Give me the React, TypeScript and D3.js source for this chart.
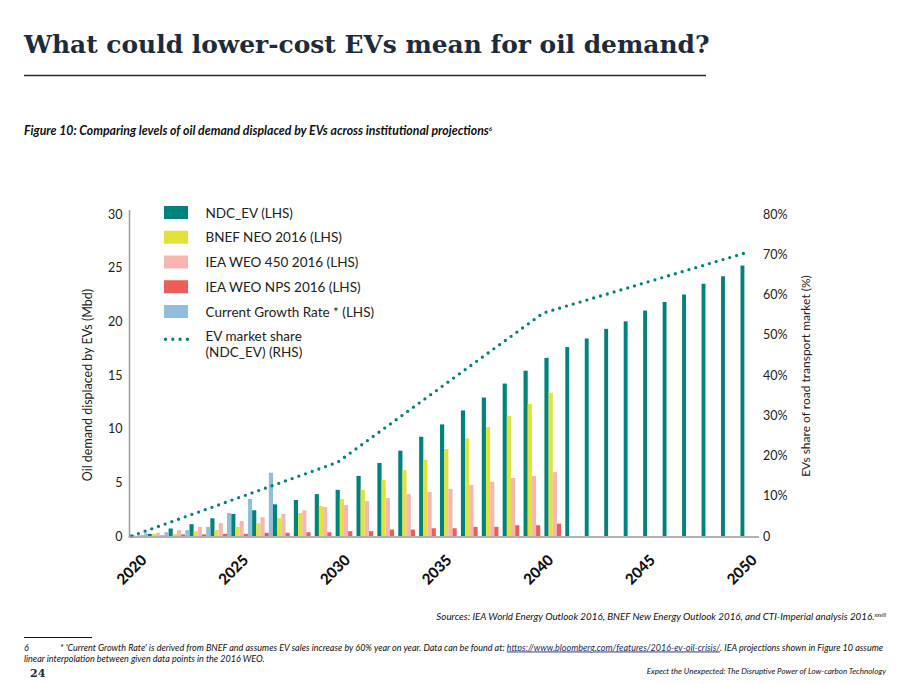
import { useEffect, useRef } from 'react';
import * as d3 from 'd3';

// categories
const years = [
  2020, 2021, 2022, 2023, 2024, 2025, 2026, 2027, 2028, 2029, 2030,
  2031, 2032, 2033, 2034, 2035, 2036, 2037, 2038, 2039, 2040,
  2041, 2042, 2043, 2044, 2045, 2046, 2047, 2048, 2049, 2050,
];
const labelYears = [2020, 2025, 2030, 2035, 2040, 2045, 2050];

// oil demand displaced (Mbd), LHS
const ndcEv = [
  0.1, 0.2, 0.7, 1.1, 1.65, 2.05, 2.4, 2.95, 3.35, 3.9, 4.3,
  5.6, 6.8, 7.95, 9.25, 10.4, 11.7, 12.9, 14.2, 15.4, 16.6,
  17.6, 18.4, 19.3, 20.0, 21.0, 21.8, 22.5, 23.5, 24.2, 25.2,
];
const bnefNeo = [
  0.05, 0.2, 0.2, 0.45, 0.55, 0.85, 1.2, 1.65, 2.15, 2.8, 3.45,
  4.3, 5.2, 6.15, 7.1, 8.1, 9.1, 10.15, 11.2, 12.3, 13.35,
];
const iea450 = [
  0.1, 0.3, 0.55, 0.85, 1.2, 1.4, 1.75, 2.05, 2.4, 2.7, 2.9,
  3.25, 3.55, 3.9, 4.1, 4.4, 4.75, 5.05, 5.4, 5.6, 5.95,
];
const ieaNps = [
  0.05, 0.05, 0.15, 0.15, 0.2, 0.2, 0.3, 0.3, 0.35, 0.35, 0.45,
  0.45, 0.6, 0.6, 0.72, 0.72, 0.85, 0.85, 1.0, 1.0, 1.15,
];
const currentGrowth = [0.25, 0.35, 0.55, 0.85, 2.15, 3.45, 5.9];

// EV market share (NDC_EV), RHS
const shareYears = [2020, 2030, 2040, 2050];
const evShare = [0.0, 0.183, 0.554, 0.706];

const leftTicks = [0, 5, 10, 15, 20, 25, 30];
const rightTicks = [0, 0.1, 0.2, 0.3, 0.4, 0.5, 0.6, 0.7, 0.8];

// the source plot spaces the bar groups unevenly: anchor years for the bar position scale
const barAnchorYears = [2020, 2021, 2041, 2050];

const TEAL = '#00827e';

const series = [
  { name: 'NDC_EV (LHS)', values: ndcEv, color: TEAL },
  { name: 'BNEF NEO 2016 (LHS)', values: bnefNeo, color: '#e3e23b' },
  { name: 'IEA WEO 450 2016 (LHS)', values: iea450, color: '#f7b7b1' },
  { name: 'IEA WEO NPS 2016 (LHS)', values: ieaNps, color: '#ea5f5a' },
  { name: 'Current Growth Rate * (LHS)', values: currentGrowth, color: '#91bed8' },
];

const W = 899;
const H = 684;
const FONT = 'Lato, "Open Sans", sans-serif';

const App = () => {
  const svgRef = useRef<SVGSVGElement>(null);

  useEffect(() => {
    if (!svgRef.current) return;
    const svg = d3.select(svgRef.current);
    svg.selectAll('*').remove();

    const plot = { left: 129.5, right: 759, top: 214, bottom: 536 };

    // uniform category scale, used for the year labels
    const x = d3.scaleBand<number>()
      .domain(years)
      .range([plot.left, plot.right + 1])
      .padding(0);

    // left edge of each bar group
    const xGroup = d3.scaleLinear()
      .domain(barAnchorYears)
      .range([plot.left + 0.8, plot.left + 18.2, plot.left + 435.8, plot.left + 611]);
    const subWidth = (year: number) =>
      Math.min(4.2, (xGroup(year + 1) - xGroup(year)) / series.length);

    const y = d3.scaleLinear().domain([0, 30]).range([plot.bottom, plot.top]);
    const yR = d3.scaleLinear().domain([0, 0.8]).range([plot.bottom, plot.top]);
    const lineX = d3.scaleLinear()
      .domain([2020, 2050])
      .range([plot.left + 2.2, plot.right - 10]);

    // Title block
    svg.append('text')
      .attr('x', 24)
      .attr('y', 53)
      .style('font-family', '"DejaVu Serif", serif')
      .style('font-weight', 700)
      .style('font-size', '24.9px')
      .style('fill', '#1d2b3b')
      .text('What could lower-cost EVs mean for oil demand?');

    svg.append('line')
      .attr('x1', 24).attr('x2', 706)
      .attr('y1', 75.5).attr('y2', 75.5)
      .attr('stroke', '#1d2b3b')
      .attr('stroke-width', 1.5);

    const fig = svg.append('text')
      .attr('x', 24)
      .attr('y', 135)
      .style('font-family', FONT)
      .style('font-weight', 700)
      .style('font-style', 'italic')
      .style('font-size', '12.3px')
      .style('fill', '#111');
    fig.append('tspan')
      .text('Figure 10: Comparing levels of oil demand displaced by EVs across institutional projections');
    fig.append('tspan').attr('dy', -4).style('font-size', '6px').text('6');

    // Bars
    const g = svg.append('g');
    series.forEach((s, k) => {
      g.selectAll(`.bar-${k}`)
        .data(s.values)
        .join('rect')
        .attr('class', `bar-${k}`)
        .attr('x', (_d, i) => xGroup(years[i]) + k * subWidth(years[i]))
        .attr('y', d => y(d))
        .attr('width', (_d, i) => subWidth(years[i]))
        .attr('height', d => plot.bottom - y(d))
        .attr('fill', s.color);
    });

    // EV market share line
    const line = d3.line<number>()
      .x((_d, i) => lineX(shareYears[i]))
      .y(d => yR(d));

    svg.append('path')
      .datum(evShare)
      .attr('d', line)
      .attr('fill', 'none')
      .attr('stroke', TEAL)
      .attr('stroke-width', 3.3)
      .attr('stroke-linecap', 'round')
      .attr('stroke-dasharray', '0 7.1');

    // Left axis
    const yAxis = svg.append('g')
      .attr('transform', `translate(${plot.left},0)`)
      .call(d3.axisLeft(y).tickValues(leftTicks).tickSize(0).tickPadding(7).tickSizeOuter(0));
    yAxis.select('.domain')
      .attr('d', `M0,${plot.top - 4}V${plot.bottom + 1}`)
      .attr('stroke', '#9a9a9a')
      .attr('stroke-width', 1.5);
    yAxis.selectAll('text')
      .style('font-family', FONT)
      .style('font-size', '12.5px')
      .style('fill', '#222');

    // Right axis
    const yAxisR = svg.append('g')
      .attr('transform', `translate(${plot.right - 2},0)`)
      .call(d3.axisRight(yR).tickValues(rightTicks).tickFormat(d3.format('.0%')).tickSize(0).tickPadding(6));
    yAxisR.select('.domain').remove();
    yAxisR.selectAll('text')
      .text((d: any) => (d === 0 ? '0' : d3.format('.0%')(d)))
      .style('font-family', FONT)
      .style('font-size', '12.5px')
      .style('fill', '#222');

    // Bottom axis line
    svg.append('line')
      .attr('x1', plot.left - 0.75).attr('x2', plot.right)
      .attr('y1', plot.bottom + 1).attr('y2', plot.bottom + 1)
      .attr('stroke', '#9a9a9a')
      .attr('stroke-width', 1.5);

    svg.append('g')
      .selectAll('text')
      .data(labelYears)
      .join('text')
      .attr('transform', d => `translate(${(x(d) || 0) + x.bandwidth() / 2 + 8},561) rotate(-45)`)
      .attr('text-anchor', 'end')
      .style('font-family', FONT)
      .style('font-weight', 900)
      .style('font-size', '15px')
      .style('fill', '#111')
      .text(d => d);

    // Axis titles
    svg.append('text')
      .attr('transform', `translate(92,${(plot.top + plot.bottom) / 2 + 10}) rotate(-90)`)
      .attr('text-anchor', 'middle')
      .style('font-family', FONT)
      .style('font-size', '12.5px')
      .style('fill', '#222')
      .text('Oil demand displaced by EVs (Mbd)');

    svg.append('text')
      .attr('transform', `translate(810,${(plot.top + plot.bottom) / 2 + 1}) rotate(-90)`)
      .attr('text-anchor', 'middle')
      .style('font-family', FONT)
      .style('font-size', '12px')
      .style('fill', '#222')
      .text('EVs share of road transport market (%)');

    // Legend
    const legend = svg.append('g').attr('transform', 'translate(164,206)');
    series.forEach((s, i) => {
      legend.append('rect')
        .attr('x', 0)
        .attr('y', i * 24.75)
        .attr('width', 24)
        .attr('height', 13)
        .attr('fill', s.color);
      legend.append('text')
        .attr('x', 41.5)
        .attr('y', i * 24.75 + 11.5)
        .style('font-family', FONT)
        .style('font-size', '13.5px')
        .style('fill', '#222')
        .text(s.name);
    });
    const ly = 5 * 24.75 + 9;
    legend.append('line')
      .attr('x1', 1.5).attr('x2', 24)
      .attr('y1', ly + 0.5).attr('y2', ly + 0.5)
      .attr('stroke', TEAL)
      .attr('stroke-width', 3.3)
      .attr('stroke-linecap', 'round')
      .attr('stroke-dasharray', '0 7.3');
    legend.append('text')
      .attr('x', 41.5).attr('y', ly + 2.5)
      .style('font-family', FONT).style('font-size', '13.5px').style('fill', '#222')
      .text('EV market share');
    legend.append('text')
      .attr('x', 41.5).attr('y', ly + 18.5)
      .style('font-family', FONT).style('font-size', '13.5px').style('fill', '#222')
      .text('(NDC_EV) (RHS)');

    // Sources
    const src = svg.append('text')
      .attr('x', 886)
      .attr('y', 620)
      .attr('text-anchor', 'end')
      .style('font-family', FONT)
      .style('font-style', 'italic')
      .style('font-size', '9.8px')
      .style('fill', '#111');
    src.append('tspan').text('Sources: IEA World Energy Outlook 2016, BNEF New Energy Outlook 2016, and CTI-Imperial analysis 2016.');
    src.append('tspan').attr('dy', -3.5).style('font-size', '5.5px').text('xxviii');

    // Footnote
    svg.append('line')
      .attr('x1', 24).attr('x2', 92)
      .attr('y1', 637.5).attr('y2', 637.5)
      .attr('stroke', '#111')
      .attr('stroke-width', 1);

    const fnStyle = (t: d3.Selection<SVGTextElement, unknown, null, undefined>) => t
      .style('font-family', FONT)
      .style('font-style', 'italic')
      .style('font-size', '9px')
      .style('fill', '#111');

    fnStyle(svg.append('text').attr('x', 24).attr('y', 650.5)).text('6');
    const fn = fnStyle(svg.append('text').attr('x', 60).attr('y', 650.5));
    fn.append('tspan').text("* 'Current Growth Rate' is derived from BNEF and assumes EV sales increase by 60% year on year. Data can be found at: ");
    fn.append('tspan').style('text-decoration', 'underline').style('fill', '#1a2a6a')
      .text('https://www.bloomberg.com/features/2016-ev-oil-crisis/');
    fn.append('tspan').text('. IEA projections shown in Figure 10 assume');
    fnStyle(svg.append('text').attr('x', 24).attr('y', 662))
      .text('linear interpolation between given data points in the 2016 WEO.');

    svg.append('text')
      .attr('x', 30)
      .attr('y', 677)
      .style('font-family', '"DejaVu Serif", serif')
      .style('font-weight', 700)
      .style('font-size', '11px')
      .style('fill', '#1d2b3b')
      .text('24');

    fnStyle(svg.append('text').attr('x', 886).attr('y', 674).attr('text-anchor', 'end'))
      .style('font-size', '8px')
      .text('Expect the Unexpected: The Disruptive Power of Low-carbon Technology');
  }, []);

  return (
    <svg
      ref={svgRef}
      width={W}
      height={H}
      style={{ position: 'absolute', left: 0, top: 0, background: '#fff', display: 'block' }}
    />
  );
};

export default App;
